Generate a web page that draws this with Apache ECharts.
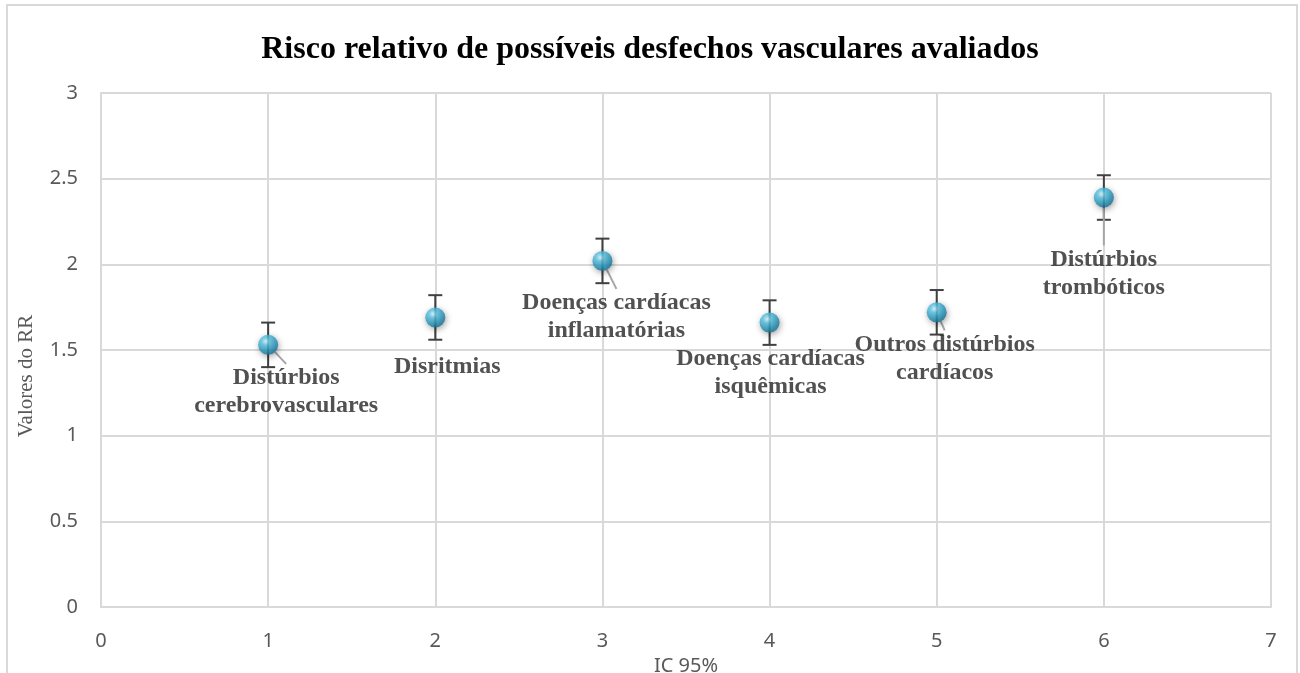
<!DOCTYPE html>
<html lang="pt">
<head>
    <meta charset="UTF-8">
    <title>Risco relativo</title>
    <script src="https://cdn.jsdelivr.net/npm/echarts@6/dist/echarts.min.js"></script>
    <style>
        html, body { margin: 0; padding: 0; background: #fff; }
        #main { width: 1300px; height: 673px; }
    </style>
</head>
<body>
<div id="main"></div>
<script type="text/javascript">
    // dados
    var categorias = ['Distúrbios\ncerebrovasculares', 'Disritmias', 'Doenças cardíacas\ninflamatórias',
        'Doenças cardíacas\nisquêmicas', 'Outros distúrbios\ncardíacos', 'Distúrbios\ntrombóticos'];
    var posX = [1, 2, 3, 4, 5, 6];
    var rr = [1.53, 1.69, 2.02, 1.66, 1.72, 2.39];
    var icInf = [1.40, 1.56, 1.89, 1.53, 1.59, 2.26];
    var icSup = [1.66, 1.82, 2.15, 1.79, 1.85, 2.52];
    var ticksY = [0, 0.5, 1, 1.5, 2, 2.5, 3];

    // deslocamento dos rótulos (px) e linhas de chamada
    var rotuloDx = [18, 12, 14, 1, 8, 0];
    var rotuloDy = [47, 49, 56, 50, 46, 76];
    var mostrarLinha = [true, false, true, false, true, true];

    var myChart = echarts.init(document.getElementById('main'));

    var pontos = posX.map(function (x, i) {
        return { value: [x, rr[i]], name: categorias[i], labelLine: { show: mostrarLinha[i] } };
    });
    var barras = posX.map(function (x, i) {
        return [x, icInf[i], icSup[i]];
    });

    var esfera = new echarts.graphic.RadialGradient(0.38, 0.33, 0.65, [
        { offset: 0, color: '#dff8fd' },
        { offset: 0.3, color: '#5cc8e8' },
        { offset: 0.8, color: '#2290b6' },
        { offset: 1, color: '#1a7598' }
    ]);

    var option = {
        backgroundColor: '#fff',
        animation: false,
        title: {
            text: 'Risco relativo de possíveis desfechos vasculares avaliados',
            left: 'center',
            top: 29,
            textStyle: {
                fontFamily: 'Liberation Serif',
                fontWeight: 'bold',
                fontSize: 32,
                color: '#000'
            }
        },
        graphic: [
            {
                type: 'rect',
                shape: { x: 7, y: 5, width: 1290, height: 700 },
                style: { fill: 'none', stroke: '#d9d9d9', lineWidth: 2 },
                silent: true
            },
            {
                type: 'text',
                x: 26,
                y: 376,
                rotation: Math.PI / 2,
                style: {
                    text: 'Valores do RR',
                    fontFamily: 'Liberation Serif',
                    fontSize: 21,
                    fill: '#595959',
                    textAlign: 'center',
                    textVerticalAlign: 'middle'
                },
                silent: true
            }
        ],
        grid: { left: 101, right: 29, top: 93, bottom: 66, outerBoundsMode: 'none', containLabel: false },
        xAxis: {
            type: 'value',
            min: 0,
            max: 7,
            interval: 1,
            name: 'IC 95%',
            nameLocation: 'middle',
            nameGap: 40,
            nameTextStyle: { fontFamily: 'Noto Sans', fontSize: 20, color: '#595959' },
            axisLine: { show: true, lineStyle: { color: '#d9d9d9', width: 2 } },
            axisTick: { show: false },
            axisLabel: { margin: 24, fontFamily: 'Noto Sans', fontSize: 20, color: '#595959' },
            splitLine: { show: true, lineStyle: { color: '#d9d9d9', width: 2 } }
        },
        yAxis: {
            type: 'value',
            min: 0,
            max: 3,
            interval: 0.5,
            axisLine: { show: true, lineStyle: { color: '#d9d9d9', width: 2 } },
            axisTick: { show: false },
            axisLabel: {
                margin: 23, fontFamily: 'Noto Sans', fontSize: 20, color: '#595959',
                formatter: function (v) { return ticksY.indexOf(v) >= 0 ? String(v) : ''; }
            },
            splitLine: { show: true, lineStyle: { color: '#d9d9d9', width: 2 } }
        },
        series: [
            {
                type: 'custom',
                z: 2,
                data: barras,
                renderItem: function (params, api) {
                    var x = api.value(0);
                    var lo = api.coord([x, api.value(1)]);
                    var hi = api.coord([x, api.value(2)]);
                    var cap = 7;
                    var st = { stroke: '#404040', lineWidth: 2 };
                    return {
                        type: 'group',
                        children: [
                            { type: 'line', shape: { x1: lo[0], y1: lo[1], x2: hi[0], y2: hi[1] }, style: st },
                            { type: 'line', shape: { x1: hi[0] - cap, y1: hi[1], x2: hi[0] + cap, y2: hi[1] }, style: st },
                            { type: 'line', shape: { x1: lo[0] - cap, y1: lo[1], x2: lo[0] + cap, y2: lo[1] }, style: st }
                        ]
                    };
                }
            },
            {
                type: 'scatter',
                z: 3,
                symbol: 'circle',
                symbolSize: 20,
                data: pontos,
                itemStyle: {
                    color: esfera,
                    shadowBlur: 6,
                    shadowColor: 'rgba(0,0,0,0.45)',
                    shadowOffsetX: 1,
                    shadowOffsetY: 2
                },
                label: {
                    show: true,
                    position: 'inside',
                    formatter: '{b}',
                    fontFamily: 'Liberation Serif',
                    fontWeight: 'bold',
                    fontSize: 24,
                    lineHeight: 28,
                    color: '#262626',
                    textBorderWidth: 0,
                    align: 'center'
                },
                labelLine: {
                    show: true,
                    lineStyle: { color: '#a6a6a6', width: 2 }
                },
                labelLayout: function (params) {
                    var i = params.dataIndex;
                    return { dx: rotuloDx[i], dy: rotuloDy[i] };
                }
            }
        ]
    };

    myChart.setOption(option);
</script>
</body>
</html>
